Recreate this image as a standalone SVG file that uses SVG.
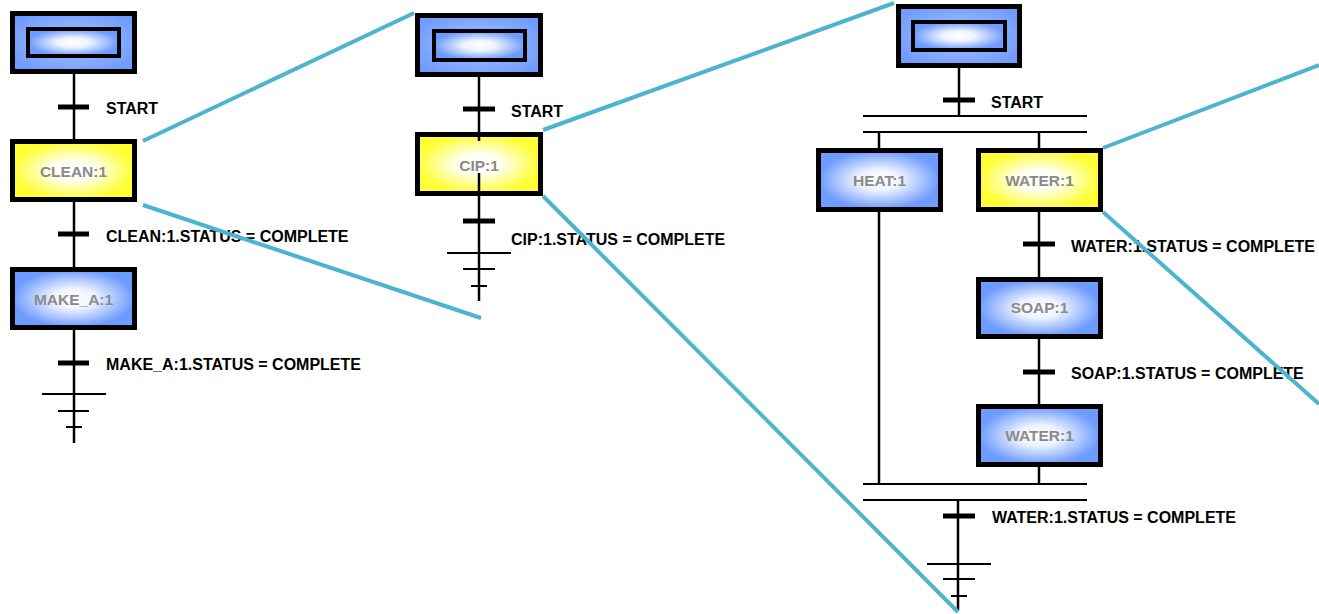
<svg xmlns="http://www.w3.org/2000/svg" width="1319" height="614" viewBox="0 0 1319 614">
  <defs>
    <radialGradient id="gBlue" cx="0.5" cy="0.5" r="0.5">
      <stop offset="0" stop-color="#ffffff"/>
      <stop offset="0.35" stop-color="#eef3ff"/>
      <stop offset="1" stop-color="#6e9bff"/>
    </radialGradient>
    <radialGradient id="gYellow" cx="0.5" cy="0.5" r="0.5">
      <stop offset="0" stop-color="#ffffff"/>
      <stop offset="0.35" stop-color="#fffff0"/>
      <stop offset="1" stop-color="#ffff33"/>
    </radialGradient>
    <radialGradient id="gInit" cx="0.5" cy="0.5" r="0.6">
      <stop offset="0" stop-color="#a9c3ff"/>
      <stop offset="1" stop-color="#6e9bff"/>
    </radialGradient>
    <style>
      .box { stroke: #000; stroke-width: 5; }
      .blue { fill: url(#gBlue); }
      .yellow { fill: url(#gYellow); }
      .init { fill: url(#gInit); stroke: #000; stroke-width: 5; }
      .initIn { fill: url(#gBlue); stroke: #000; stroke-width: 4; }
      .step { font-family: "Liberation Sans", Arial, sans-serif; font-weight: bold; font-size: 15.5px; fill: #8a8a8a; text-anchor: middle; }
      .lbl { font-family: "Liberation Sans", Arial, sans-serif; font-weight: bold; font-size: 16px; fill: #000; }
      .wire { stroke: #000; stroke-width: 2.5; fill: none; }
      .rail { stroke: #000; stroke-width: 2; fill: none; }
      .bar { stroke: #000; stroke-width: 5; fill: none; }
      .zoom { stroke: #4db4cf; stroke-width: 4; fill: none; }
    </style>
  </defs>
  <rect width="1319" height="614" fill="#ffffff"/>

  <!-- connectors: links, transitions, branch rails, end marks -->
  <g id="connectors">
    <!-- chart 1 -->
    <line class="wire" x1="74" y1="74" x2="74" y2="139"/>
    <line class="bar" x1="58" y1="107" x2="89" y2="107"/>
    <line class="wire" x1="74" y1="202" x2="74" y2="267"/>
    <line class="bar" x1="58" y1="234" x2="89" y2="234"/>
    <line class="wire" x1="74" y1="330" x2="74" y2="443"/>
    <line class="bar" x1="58" y1="363" x2="89" y2="363"/>
    <line class="rail" x1="42" y1="394" x2="106" y2="394"/>
    <line class="rail" x1="58" y1="411" x2="89" y2="411"/>
    <line class="rail" x1="66" y1="427" x2="82" y2="427"/>
    <text class="lbl" x="106" y="114">START</text>
    <text class="lbl" x="106" y="242">CLEAN:1.STATUS = COMPLETE</text>
    <text class="lbl" x="106" y="370">MAKE_A:1.STATUS = COMPLETE</text>

    <!-- chart 2 -->
    <line class="wire" x1="479" y1="77" x2="479" y2="132"/>
    <line class="bar" x1="463" y1="109" x2="495" y2="109"/>
    <line class="wire" x1="479" y1="196" x2="479" y2="301"/>
    <line class="bar" x1="463" y1="221" x2="495" y2="221"/>
    <line class="rail" x1="447" y1="253" x2="511" y2="253"/>
    <line class="rail" x1="463" y1="269" x2="495" y2="269"/>
    <line class="rail" x1="471" y1="286" x2="487" y2="286"/>
    <text class="lbl" x="511" y="117">START</text>
    <text class="lbl" x="511" y="245">CIP:1.STATUS = COMPLETE</text>

    <!-- chart 3 -->
    <line class="wire" x1="959" y1="68" x2="959" y2="116"/>
    <line class="bar" x1="943" y1="100" x2="975" y2="100"/>
    <line class="rail" x1="863" y1="116" x2="1087" y2="116"/>
    <line class="rail" x1="863" y1="132" x2="1087" y2="132"/>
    <line class="wire" x1="879" y1="132" x2="879" y2="148"/>
    <line class="wire" x1="1039" y1="132" x2="1039" y2="148"/>
    <line class="wire" x1="879" y1="212" x2="879" y2="484"/>
    <line class="wire" x1="1039" y1="212" x2="1039" y2="277"/>
    <line class="bar" x1="1023" y1="244" x2="1055" y2="244"/>
    <line class="wire" x1="1039" y1="339" x2="1039" y2="404"/>
    <line class="bar" x1="1023" y1="372" x2="1055" y2="372"/>
    <line class="wire" x1="1039" y1="467" x2="1039" y2="484"/>
    <line class="rail" x1="863" y1="484" x2="1087" y2="484"/>
    <line class="rail" x1="863" y1="500" x2="1087" y2="500"/>
    <line class="wire" x1="958" y1="500" x2="958" y2="610"/>
    <line class="bar" x1="943" y1="516" x2="975" y2="516"/>
    <line class="rail" x1="927" y1="564" x2="991" y2="564"/>
    <line class="rail" x1="943" y1="579" x2="975" y2="579"/>
    <line class="rail" x1="951" y1="596" x2="967" y2="596"/>
    <text class="lbl" x="991" y="108">START</text>
    <text class="lbl" x="1071" y="252">WATER:1.STATUS = COMPLETE</text>
    <text class="lbl" x="1071" y="379">SOAP:1.STATUS = COMPLETE</text>
    <text class="lbl" x="992" y="523">WATER:1.STATUS = COMPLETE</text>
  </g>

  <!-- chart 1 nodes -->
  <g id="init1">
    <rect class="init" x="12.5" y="13.5" width="122" height="58"/>
    <rect class="initIn" x="28" y="29" width="91" height="27"/>
  </g>
  <g id="clean1">
    <rect class="box yellow" x="12.5" y="141.5" width="122" height="58"/>
    <text class="step" x="73.5" y="177">CLEAN:1</text>
  </g>
  <g id="makeA1">
    <rect class="box blue" x="12.5" y="269.5" width="122" height="58"/>
    <text class="step" x="73.5" y="305">MAKE_A:1</text>
  </g>

  <!-- chart 2 nodes -->
  <g id="init2">
    <rect class="init" x="417.5" y="15.5" width="123" height="59"/>
    <rect class="initIn" x="434" y="31" width="91" height="29"/>
  </g>
  <g id="cip1">
    <rect class="box yellow" x="417.5" y="134.5" width="123" height="59"/>
    <line class="wire" x1="479" y1="134" x2="479" y2="141"/>
    <line class="wire" x1="479" y1="173" x2="479" y2="196"/>
    <text class="step" x="479" y="171">CIP:1</text>
  </g>

  <!-- chart 3 nodes -->
  <g id="init3">
    <rect class="init" x="898.5" y="6.5" width="121" height="59"/>
    <rect class="initIn" x="913" y="22" width="92" height="28"/>
  </g>
  <g id="heat1">
    <rect class="box blue" x="818.5" y="150.5" width="122" height="59"/>
    <text class="step" x="879.5" y="186">HEAT:1</text>
  </g>
  <g id="water1">
    <rect class="box yellow" x="978.5" y="150.5" width="122" height="59"/>
    <text class="step" x="1039.5" y="186">WATER:1</text>
  </g>
  <g id="soap1">
    <rect class="box blue" x="978.5" y="279.5" width="122" height="57"/>
    <text class="step" x="1039.5" y="313">SOAP:1</text>
  </g>
  <g id="water2">
    <rect class="box blue" x="978.5" y="406.5" width="122" height="58"/>
    <text class="step" x="1039.5" y="441">WATER:1</text>
  </g>

  <!-- zoom-out guide lines linking each step to its expanded chart -->
  <g id="guides">
    <line class="zoom" x1="143" y1="141" x2="414" y2="13"/>
    <line class="zoom" x1="143" y1="205" x2="481" y2="318"/>
    <line class="zoom" x1="543" y1="130" x2="894" y2="3"/>
    <line class="zoom" x1="543" y1="196" x2="958" y2="612"/>
    <line class="zoom" x1="1103" y1="148" x2="1319" y2="65"/>
    <line class="zoom" x1="1103" y1="212" x2="1319" y2="404"/>
  </g>
</svg>
